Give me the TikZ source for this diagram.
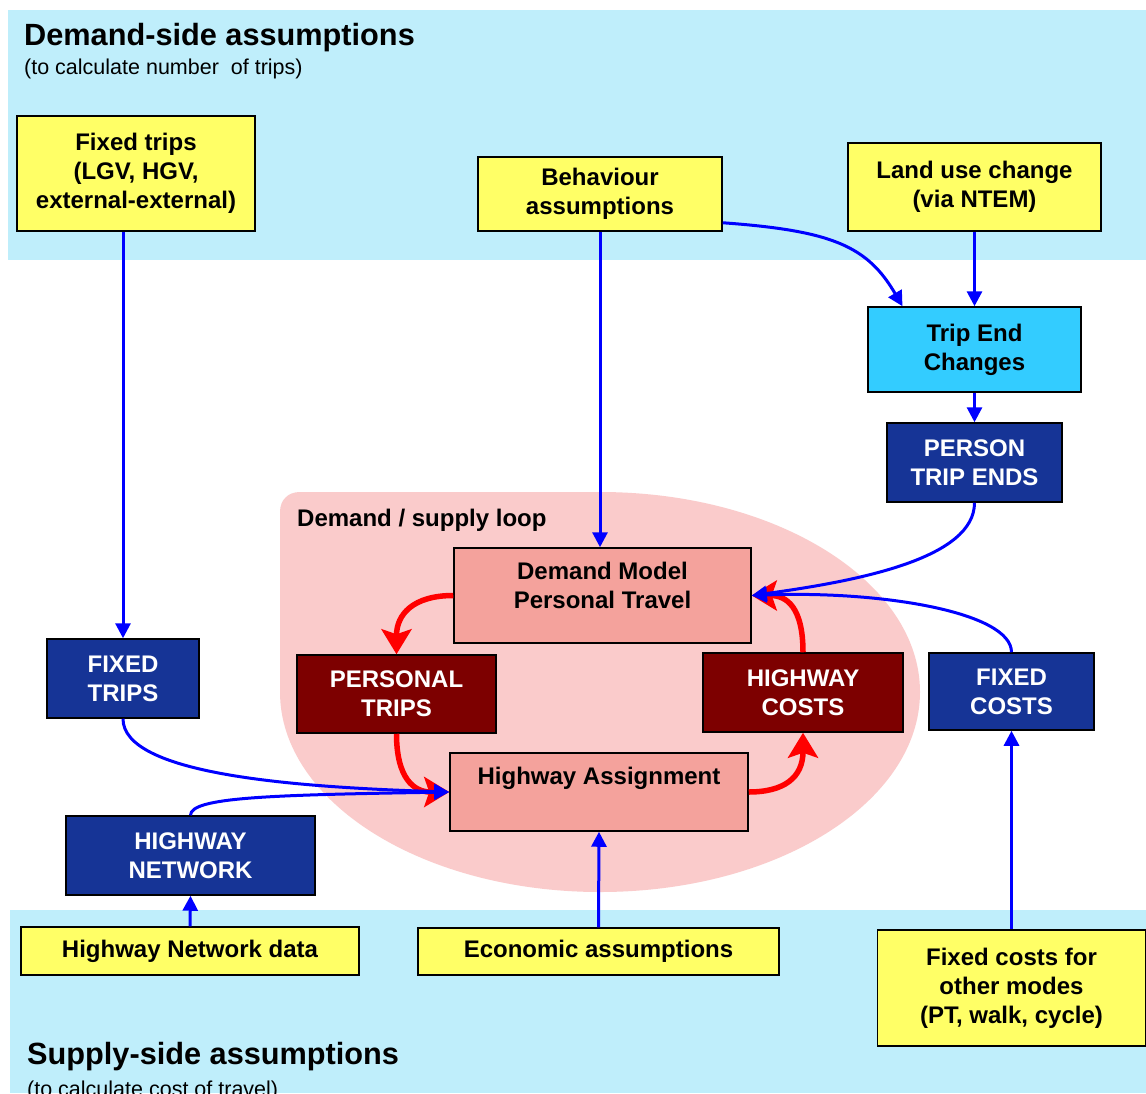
\documentclass[tikz,border=0pt]{standalone}
\usepackage{fontspec}
\setmainfont{Liberation Sans}
\usetikzlibrary{arrows.meta}

\definecolor{cBand}{RGB}{191,238,251}
\definecolor{cLoop}{RGB}{250,203,203}
\definecolor{cYellow}{RGB}{255,255,102}
\definecolor{cCyan}{RGB}{51,204,255}
\definecolor{cNavy}{RGB}{22,52,150}
\definecolor{cMaroon}{RGB}{125,0,0}
\definecolor{cSalmon}{RGB}{244,162,156}

\begin{document}
\begin{tikzpicture}[x=1pt,y=-1pt,
    every node/.style={font=\fontsize{24}{29}\selectfont\bfseries,align=center,inner sep=0},
    inbox/.style={draw=black,line width=1.5,fill=cYellow},
    endbox/.style={draw=black,line width=1.5,fill=cCyan},
    outbox/.style={draw=black,line width=1.5,fill=cNavy,text=white},
    loopbox/.style={draw=black,line width=1.5,fill=cMaroon,text=white},
    modelbox/.style={draw=black,line width=1.5,fill=cSalmon},
    boxtext/.style={anchor=north,yshift=-15},
    feed/.style={draw=blue,line width=3,-{Triangle[length=15pt,width=15pt]}},
    loopflow/.style={draw=red,line width=5.5,-{Stealth[length=25pt,width=30pt,inset=5pt]}}]
  \useasboundingbox (0,0) rectangle (1146,1093);
  \fill[white] (0,0) rectangle (1146,1093);

  % assumption bands and the loop
  \fill[cBand] (8,10) rectangle (1146,260);
  \fill[cBand] (10,910) rectangle (1146,1093);
  \fill[cLoop] (280,512) .. controls (280,500) and (288,492) .. (300,492) -- (600,492)
    .. controls (777,492) and (920,582) .. (920,692)
    .. controls (920,802) and (777,892) .. (600,892)
    .. controls (423,892) and (280,802) .. (280,692) -- cycle;

  \node[anchor=base west,font=\fontsize{30.7}{36}\selectfont\bfseries] (demtitle) at (24,45) {Demand-side assumptions};
  \node[anchor=base west,font=\fontsize{21.5}{25}\selectfont] (demsub) at (24,74) {(to calculate number\ \ of trips)};
  \node[anchor=base west,font=\fontsize{30.7}{36}\selectfont\bfseries] (suptitle) at (27,1064) {Supply-side assumptions};
  \node[anchor=base west,font=\fontsize{21.5}{25}\selectfont] (supsub) at (27,1096) {(to calculate cost of travel)};
  \node[anchor=base west,font=\fontsize{24}{29}\selectfont\bfseries] (looptitle) at (297,526) {Demand / supply loop};

  % inputs
  \node[inbox,minimum width=238,minimum height=115] (fixedin) at (136,173.5) {Fixed trips\\(LGV, HGV,\\external-external)};
  \node[inbox,minimum width=244,minimum height=74] (behav) at (600,194) {Behaviour\\assumptions};
  \node[inbox,minimum width=253,minimum height=88] (landuse) at (974.5,187) {Land use change\\(via NTEM)};
  \node[inbox,minimum width=338,minimum height=48] (hnetdata) at (190,951) {Highway Network data};
  \node[inbox,minimum width=361,minimum height=47] (econ) at (598.5,951.5) {Economic assumptions};
  \node[inbox,minimum width=268,minimum height=116] (fcostsin) at (1011.5,988) {Fixed costs for\\other modes\\(PT, walk, cycle)};

  % intermediate boxes
  \node[endbox,minimum width=213,minimum height=85] (tripend) at (974.5,349.5) {Trip End\\Changes};
  \node[outbox,minimum width=175,minimum height=79] (personends) at (974.5,462.5) {PERSON\\TRIP ENDS};
  \node[outbox,minimum width=152,minimum height=79] (ftrips) at (123,678.5) {FIXED\\TRIPS};
  \node[outbox,minimum width=165,minimum height=77] (fcosts) at (1011.5,691.5) {FIXED\\COSTS};
  \node[outbox,minimum width=249,minimum height=79] (hnet) at (190.5,855.5) {HIGHWAY\\NETWORK};

  % the loop
  \node[modelbox,minimum width=297,minimum height=95,
    label={[boxtext]north:Demand Model\\Personal Travel}] (demand) at (602.5,595.5) {};
  \node[modelbox,minimum width=298,minimum height=78,
    label={[boxtext]north:Highway Assignment}] (assign) at (599,792) {};
  \node[loopbox,minimum width=199,minimum height=78] (ptrips) at (396.5,694) {PERSONAL\\TRIPS};
  \node[loopbox,minimum width=200,minimum height=79] (hcosts) at (803,692.5) {HIGHWAY\\COSTS};

  \draw[loopflow] (demand.west) .. controls +(-40,0) and +(0,-40) .. (ptrips.north);
  \draw[loopflow] (ptrips.south) .. controls +(0,45) and +(-35,0) .. (assign.west);
  \draw[loopflow] (assign.east) .. controls +(35,0) and +(0,45) .. (hcosts.south);
  \draw[loopflow] (hcosts.north) .. controls +(0,-45) and +(35,0) .. (demand.east);

  \draw[feed] (ftrips.north |- fixedin.south) -- (ftrips.north);
  \draw[feed] (behav.south) -- (behav.south |- demand.north);
  \draw[feed] ([yshift=9]behav.south east) .. controls +(110,8) and +(-35,-60) .. ([xshift=-72]tripend.north);
  \draw[feed] (landuse.south) -- (tripend.north);
  \draw[feed] (tripend.south) -- (personends.north);
  \draw[feed] (personends.south) .. controls +(0,55) and +(110,-15) .. (demand.east);
  \draw[feed] (fcosts.north) .. controls +(0,-40) and +(130,-5) .. (demand.east);
  \draw[feed] (fcostsin.north) -- (fcosts.south);
  \draw[feed] (ftrips.south) .. controls +(0,55) and +(-160,-5) .. (assign.west);
  \draw[feed] (hnet.north) .. controls +(0,-18) and +(-180,3) .. (assign.west);
  \draw[feed] (hnetdata.north) -- (hnet.south);
  \draw[feed] (econ.north) -- (assign.south);
\end{tikzpicture}
\end{document}
